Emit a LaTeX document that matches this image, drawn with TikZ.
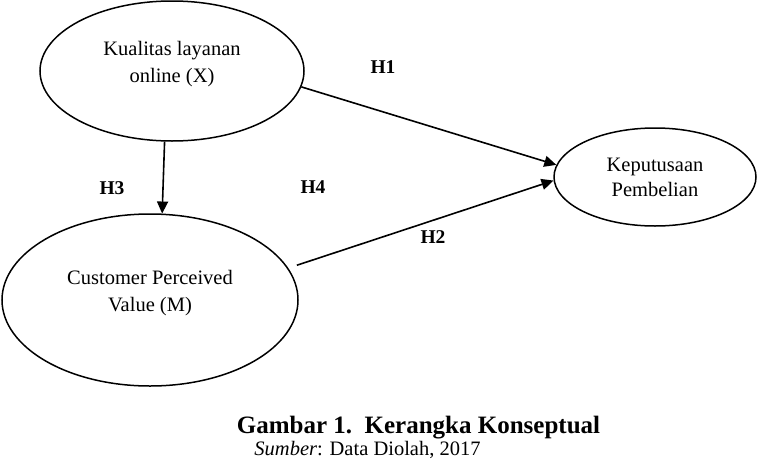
\documentclass[tikz,border=0pt]{standalone}
\usepackage{fontspec}
\setmainfont{Liberation Serif}
\usetikzlibrary{shapes.geometric,arrows.meta}
\begin{document}
\begin{tikzpicture}[x=1pt,y=-1pt,
  oval/.style={draw,ellipse,line width=1.5pt,inner sep=0pt},
  txt/.style={align=center,font=\fontsize{20.5}{27}\selectfont},
  hlab/.style={font=\fontsize{19.5}{22}\selectfont\bfseries},
  link/.style={line width=1.6pt,-{Triangle[length=12pt,width=11pt]}}]
\useasboundingbox (0,0) rectangle (757,466);
\node[oval,minimum width=264pt,minimum height=140pt] (X) at (172,71) {};
\node[oval,minimum width=296pt,minimum height=172pt] (M) at (150,300) {};
\node[oval,minimum width=202pt,minimum height=98pt] (K) at (655,177) {};
\node[txt] (Xt) at (172,64) {Kualitas layanan\\online (X)};
\node[txt] (Mt) at (150,293.5) {Customer Perceived\\Value (M)};
\node[txt,font=\fontsize{20.5}{25}\selectfont] (Kt) at (655,177.5) {Keputusaan\\Pembelian};
\draw[link] (X.-7.6) -- (K.173.8);
\draw[link,shorten <=9pt] (M.13.1) -- (K.182.8);
\draw[link] (X.-96.5) -- (M.82.9);
\node[hlab] (h1) at (383,67) {H1};
\node[hlab] (h2) at (433,237) {H2};
\node[hlab] (h3) at (112,188) {H3};
\node[hlab] (h4) at (313,187) {H4};
\node[font=\fontsize{25}{28}\selectfont\bfseries] (cap) at (418.5,428) {Gambar 1.\ \ Kerangka Konseptual};
\node[font=\fontsize{20.5}{24}\selectfont] (src) at (367.5,450) {\textit{Sumber}: Data Diolah, 2017};
\end{tikzpicture}
\end{document}
